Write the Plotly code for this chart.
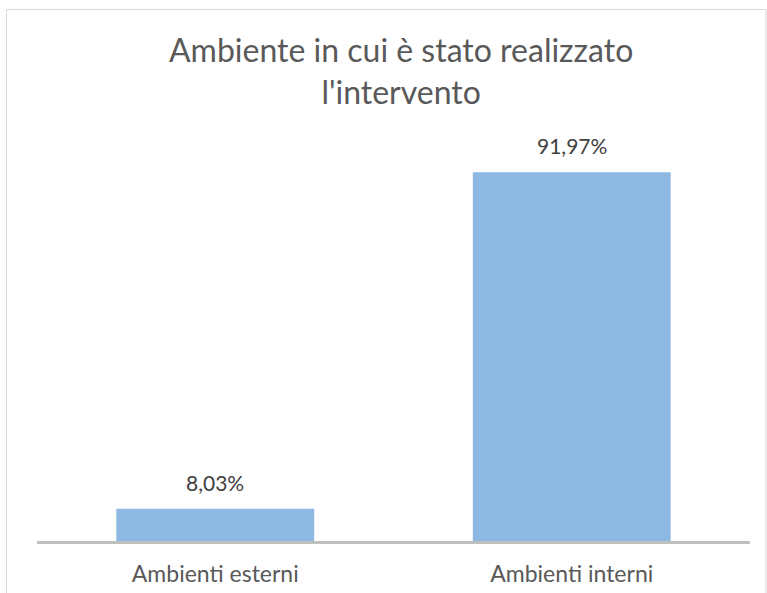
import plotly.graph_objects as go

categories = ["Ambienti esterni", "Ambienti interni"]
values = [8.03, 91.97]
labels = [f"{v:.2f}".replace(".", ",") + "%" for v in values]
title_text = "Ambiente in cui è stato realizzato<br>l'intervento"

W, H = 767, 593
ml, mr, mt, mb = 37, 17, 140, 52
pw, ph = W - ml - mr, H - mt - mb
FONT = "Lato, Open Sans, sans-serif"


def px(x):
    return (x - ml) / pw


def py(y):
    return (H - mb - y) / ph


fig = go.Figure(go.Bar(
    x=categories, y=values,
    marker=dict(color="#8DB8E2", line=dict(width=0)),
    width=0.555,
    hoverinfo="skip",
))

for c, v, t in zip(categories, values, labels):
    fig.add_annotation(x=c, y=v, text=t, showarrow=False, yanchor="bottom",
                       yshift=12, font=dict(size=21, color="#404040", family=FONT))

# chart title (as paper annotation for precise placement)
fig.add_annotation(xref="paper", yref="paper", x=px(401), y=py(28),
                   text=title_text, showarrow=False, xanchor="center", yanchor="top",
                   font=dict(size=32, color="#595959", family=FONT), align="center")

# outer chart border (left, top, right; bottom edge is outside the picture)
border = dict(color="#D9D9D9", width=1)
for x0, y0, x1, y1 in [(6.5, 9.5, 6.5, 593), (6.5, 9.5, 766, 9.5), (766, 9.5, 766, 593)]:
    fig.add_shape(type="line", xref="paper", yref="paper",
                  x0=px(x0), y0=py(y0), x1=px(x1), y1=py(y1), line=border, layer="below")

fig.update_layout(
    width=W, height=H,
    margin=dict(l=ml, r=mr, t=mt, b=mb, autoexpand=False),
    paper_bgcolor="white", plot_bgcolor="white",
    font=dict(family=FONT, color="#595959"),
    showlegend=False,
)
fig.update_xaxes(showline=True, linecolor="#BFBFBF", linewidth=2.5,
                 tickfont=dict(size=23, color="#595959"), ticks="",
                 ticklabelstandoff=11, showgrid=False, fixedrange=True, automargin=False)
fig.update_yaxes(range=[0, 100], visible=False, showgrid=False, zeroline=False,
                 fixedrange=True, automargin=False)

fig.write_html("out.html", config={"displayModeBar": False},
               post_script="document.body.style.margin='0';")
